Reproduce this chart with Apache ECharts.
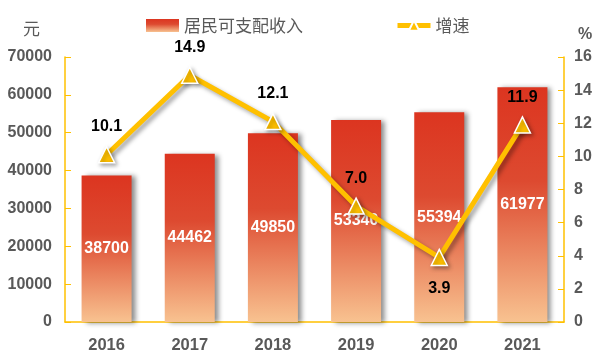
<!DOCTYPE html>
<html><head><meta charset="utf-8">
<script src="https://cdn.jsdelivr.net/npm/echarts@6/dist/echarts.min.js"></script>
<style>html,body{margin:0;padding:0;background:#fff}#c{width:600px;height:360px}</style>
</head><body><div id="c"></div>
<script>
var years = ['2016','2017','2018','2019','2020','2021'];
var income = [38700, 44462, 49850, 53340, 55394, 61977];
var growth = [10.1, 14.9, 12.1, 7.0, 3.9, 11.9];
var leftTicks = [0, 10000, 70000];
var rightTicks = [0, 2, 16];

var chart = echarts.init(document.getElementById('c'));
var axisColor = '#FFC000';
var lblColor = '#595959';
var numFont = 'Liberation Sans, Arial, sans-serif';
var plain = function (v) { return String(v); };
chart.setOption({
  animation: false,
  grid: {left: 65, right: 36, top: 57, bottom: 38},
  legend: {
    left: 141, top: 12, itemGap: 92, itemWidth: 33, itemHeight: 13,
    textStyle: {fontFamily: 'Noto Sans CJK SC', fontSize: 17, color: lblColor},
    data: [{name: '居民可支配收入', icon: 'rect'},
           {name: '增速', lineStyle: {width: 5}}]
  },
  xAxis: {
    type: 'category', data: years,
    axisLine: {lineStyle: {color: axisColor, width: 1.5}},
    axisTick: {show: false},
    axisLabel: {color: lblColor, fontWeight: 'bold', fontSize: 16.5, fontFamily: numFont, margin: 15}
  },
  yAxis: [{
    type: 'value', min: leftTicks[0], max: leftTicks[2], interval: leftTicks[1],
    name: '元', nameGap: 20,
    nameTextStyle: {fontFamily: 'Noto Sans CJK SC', fontSize: 17, color: lblColor, align: 'right', padding: [0, 25, 0, 0]},
    axisLine: {show: true, lineStyle: {color: axisColor, width: 1.5}},
    axisTick: {show: true, inside: true, length: 6, lineStyle: {color: axisColor}},
    splitLine: {show: false},
    axisLabel: {color: lblColor, fontWeight: 'bold', fontSize: 16, fontFamily: numFont, margin: 13, formatter: plain}
  }, {
    type: 'value', min: rightTicks[0], max: rightTicks[2], interval: rightTicks[1],
    name: '%', nameGap: 14,
    nameTextStyle: {fontFamily: numFont, fontWeight: 'bold', fontSize: 16, color: lblColor, align: 'left', padding: [0, 0, 0, 14]},
    axisLine: {show: true, lineStyle: {color: axisColor, width: 1.5}},
    axisTick: {show: true, inside: true, length: 6, lineStyle: {color: axisColor}},
    splitLine: {show: false},
    axisLabel: {color: lblColor, fontWeight: 'bold', fontSize: 16, fontFamily: numFont, margin: 10}
  }],
  series: [{
    name: '居民可支配收入', type: 'bar', barWidth: 50, yAxisIndex: 0,
    data: income,
    itemStyle: {
      color: new echarts.graphic.LinearGradient(0, 0, 0, 1, [
        {offset: 0, color: '#DC3520'}, {offset: 0.4, color: '#DD4A30'}, {offset: 1, color: '#F8C290'}
      ]),
      shadowColor: 'rgba(0,0,0,0.45)', shadowBlur: 5, shadowOffsetX: 4, shadowOffsetY: 1
    },
    label: {show: true, position: 'inside', color: '#fff', fontWeight: 'bold', fontSize: 16, fontFamily: numFont}
  }, {
    name: '增速', type: 'line', yAxisIndex: 1,
    data: growth.map(function (v, i) {
      return i === 4 ? {value: v, label: {position: 'bottom', distance: 14}} : v;
    }),
    symbol: 'triangle', symbolSize: 16,
    lineStyle: {color: axisColor, width: 5, shadowColor: 'rgba(0,0,0,0.35)', shadowBlur: 4, shadowOffsetX: 3, shadowOffsetY: 3},
    itemStyle: {color: axisColor, borderColor: '#fff', borderWidth: 1.5, shadowColor: 'rgba(0,0,0,0.35)', shadowBlur: 4, shadowOffsetX: 2, shadowOffsetY: 2},
    label: {show: true, position: 'top', distance: 11, color: '#000', fontWeight: 'bold', fontSize: 16, fontFamily: numFont,
      formatter: function (p) { return Number(p.value).toFixed(1); }}
  }]
});
</script></body></html>
